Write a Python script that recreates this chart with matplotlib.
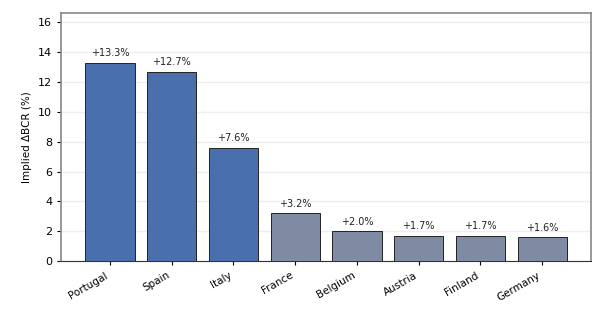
import matplotlib.pyplot as plt

countries = ["Portugal", "Spain", "Italy", "France", "Belgium", "Austria", "Finland", "Germany"]
delta_bcr = [13.3, 12.7, 7.6, 3.2, 2.0, 1.7, 1.7, 1.6]
highlight = [True, True, True, False, False, False, False, False]

colors = ["#4a6fad" if h else "#7f8ba3" for h in highlight]

fig, ax = plt.subplots(figsize=(6, 3.15), dpi=100)
fig.subplots_adjust(left=0.102, right=0.985, top=0.959, bottom=0.171)

x = range(len(countries))
bars = ax.bar(x, delta_bcr, width=0.8, color=colors, edgecolor="#222222", linewidth=0.7, zorder=3)

for b, v in zip(bars, delta_bcr):
    ax.text(b.get_x() + b.get_width() / 2, v + 0.3, f"+{v:.1f}%",
            ha="center", va="bottom", fontsize=7, color="#222222")

ax.set_xticks(list(x))
ax.set_xticklabels(countries, rotation=30, ha="right", fontsize=7.5)
ax.tick_params(axis="y", labelsize=8, length=3)
ax.tick_params(axis="x", length=3)
ax.set_ylim(0, max(delta_bcr) * 1.25)
ax.set_yticks(range(0, 17, 2))
ax.set_ylabel("Implied ΔBCR (%)", fontsize=7.5)
ax.yaxis.grid(True, color="#eeeeee", linewidth=1, zorder=0)
ax.set_axisbelow(True)

for side in ["left", "top", "right"]:
    ax.spines[side].set_color("#888888")
    ax.spines[side].set_linewidth(1.2)
ax.spines["bottom"].set_color("#333333")

fig.savefig("out.png", dpi=100)
